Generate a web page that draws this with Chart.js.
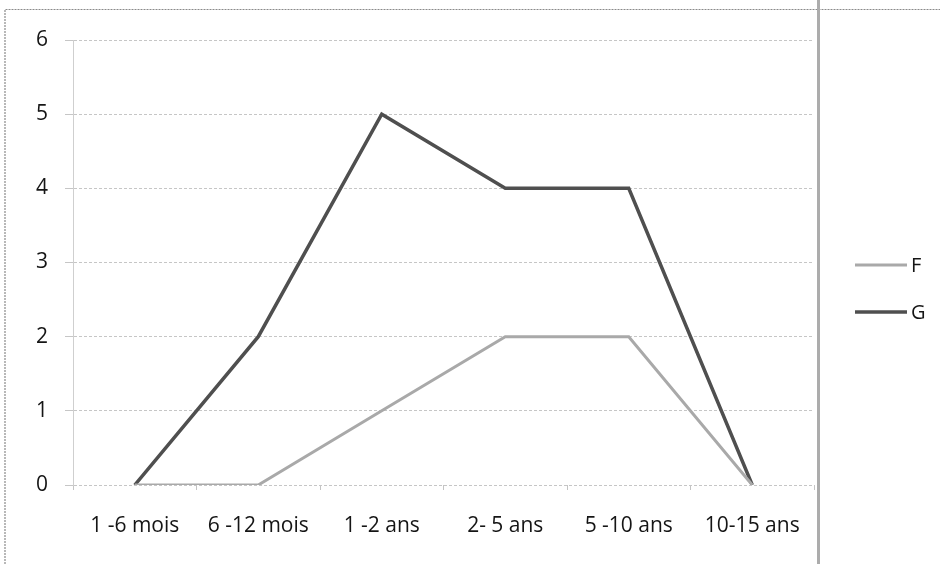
<!DOCTYPE html>
<html>
<head>
<meta charset="utf-8">
<script src="https://cdn.jsdelivr.net/npm/chart.js@4/dist/chart.umd.min.js"></script>
<style>
  html, body { margin: 0; padding: 0; background: #fff; }
  #wrap { width: 940px; height: 564px; position: relative; }
</style>
</head>
<body>
<div id="wrap"><canvas id="c" width="940" height="564"></canvas></div>
<script>
// Age groups on the horizontal axis
const categories = ["1 -6 mois", "6 -12 mois", "1 -2 ans", "2- 5 ans", "5 -10 ans", "10-15 ans"];
// Counts per age group
const seriesF = [0, 0, 1, 2, 2, 0];
const seriesG = [0, 2, 5, 4, 4, 0];
const seriesNames = ["F", "G"];
const yTicks = [0, 1, 2, 3, 4, 5, 6];

const FONT = "'Open Sans', 'Liberation Sans', sans-serif";
const TEXT = "#151515";

// Page frame lines around the figure
const framePlugin = {
  id: "frame",
  beforeDraw(chart) {
    const ctx = chart.ctx;
    ctx.save();
    ctx.fillStyle = "#fff";
    ctx.fillRect(0, 0, chart.width, chart.height);
    ctx.strokeStyle = "#8a8a8a";
    ctx.lineWidth = 1.2;
    ctx.setLineDash([2, 1]);
    ctx.beginPath();
    ctx.moveTo(5, chart.height);
    ctx.lineTo(5, 9.5);
    ctx.lineTo(chart.width, 9.5);
    ctx.stroke();
    ctx.setLineDash([]);
    ctx.strokeStyle = "#acacac";
    ctx.lineWidth = 3;
    ctx.beginPath();
    ctx.moveTo(818.5, 0);
    ctx.lineTo(818.5, chart.height);
    ctx.stroke();
    ctx.restore();
  }
};

// Legend on the right: a short line sample followed by the series name
const sideLegend = {
  id: "sideLegend",
  afterDraw(chart) {
    const ctx = chart.ctx;
    ctx.save();
    const rows = [265, 312];
    chart.data.datasets.forEach((ds, i) => {
      const y = rows[i];
      ctx.strokeStyle = ds.borderColor;
      ctx.lineWidth = ds.borderWidth;
      ctx.beginPath();
      ctx.moveTo(855, y);
      ctx.lineTo(907, y);
      ctx.stroke();
      ctx.fillStyle = TEXT;
      ctx.font = "20px " + FONT;
      ctx.textBaseline = "middle";
      ctx.textAlign = "left";
      ctx.fillText(ds.label, 911, y + 1);
    });
    ctx.restore();
  }
};

new Chart(document.getElementById("c"), {
  type: "line",
  data: {
    labels: categories,
    datasets: [
      {
        label: seriesNames[0],
        data: seriesF,
        borderColor: "#a9a9a9",
        borderWidth: 3,
        pointRadius: 0,
        tension: 0,
        fill: false
      },
      {
        label: seriesNames[1],
        data: seriesG,
        borderColor: "#4f4f4f",
        borderWidth: 3.5,
        pointRadius: 0,
        tension: 0,
        fill: false
      }
    ]
  },
  options: {
    responsive: false,
    animation: false,
    devicePixelRatio: 1,
    layout: { padding: { left: 0, right: 126, top: 40, bottom: 0 } },
    plugins: {
      legend: { display: false },
      tooltip: { enabled: false }
    },
    scales: {
      x: {
        type: "category",
        offset: true,
        grid: {
          offset: true,
          drawOnChartArea: false,
          drawTicks: true,
          tickLength: 5,
          color: "#c4c4c4"
        },
        border: { display: false },
        ticks: {
          color: TEXT,
          font: { family: FONT, size: 21 },
          padding: 23,
          maxRotation: 0,
          autoSkip: false
        },
        afterFit(scale) { scale.height = 79; }
      },
      y: {
        min: 0,
        max: 6,
        afterBuildTicks(scale) { scale.ticks = yTicks.map(v => ({ value: v })); },
        grid: {
          color: "#c6c6c6",
          lineWidth: 1,
          tickLength: 8,
          borderDash: [3, 2]
        },
        border: { display: true, color: "#cfcfcf", dash: [3, 2] },
        ticks: {
          color: TEXT,
          font: { family: FONT, size: 21 },
          padding: 17
        },
        afterFit(scale) { scale.width = 73; }
      }
    }
  },
  plugins: [framePlugin, sideLegend]
});
</script>
</body>
</html>
